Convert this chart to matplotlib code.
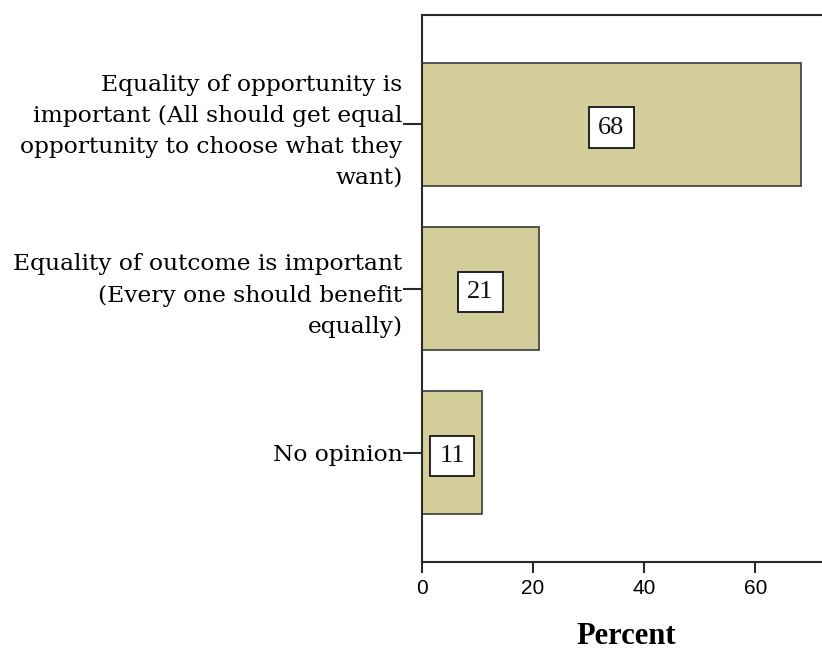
import numpy as np
import matplotlib
matplotlib.use('Agg')
import matplotlib.pyplot as plt

# survey answers, percent
categories = ['Equality of opportunity is\nimportant (All should get equal\nopportunity to choose what they\nwant)',
              'Equality of outcome is important\n(Every one should benefit\nequally)',
              'No opinion']
percent = [68.2, 21.0, 10.8]
xticks = [0, 20, 40, 60]

fig = plt.figure(figsize=(8.22, 6.5), dpi=100)
ax = fig.add_axes([422/822., 88/650., 400/822., 547/650.])

ypos = np.arange(len(categories))
ax.barh(ypos, percent, height=0.75, color='#d3ce99', edgecolor='#3a3a3a', linewidth=1.2)

for y, v in zip(ypos, percent):
    ax.text(v/2., y + 0.02, '%d' % round(v), ha='center', va='center', fontsize=19,
            family='Liberation Serif', color='#111111',
            bbox=dict(boxstyle='square,pad=0.35', facecolor='white', edgecolor='#222222', linewidth=1.4))

ax.set_ylim(2.666, -0.666)
ax.set_xlim(0, 72)
ax.set_yticks(ypos)
ax.set_yticklabels(categories, family='DejaVu Serif', fontsize=16.8, linespacing=1.53)
ax.set_xticks(xticks)
ax.set_xticklabels([str(t) for t in xticks], family='Liberation Sans', fontsize=15)
ax.tick_params(axis='y', length=14, width=1.5, pad=0, color='#2a2a2a')
ax.tick_params(axis='x', length=8, width=1.5, pad=4, color='#2a2a2a')

for s in ['left', 'bottom', 'top']:
    ax.spines[s].set_linewidth(1.5)
    ax.spines[s].set_color('#2a2a2a')
ax.spines['right'].set_visible(False)

fig.text(626/822., 1 - 636/650., 'Percent', ha='center', va='center', fontsize=22,
         family='Liberation Serif', weight='bold')

plt.savefig('out.png', dpi=100)
